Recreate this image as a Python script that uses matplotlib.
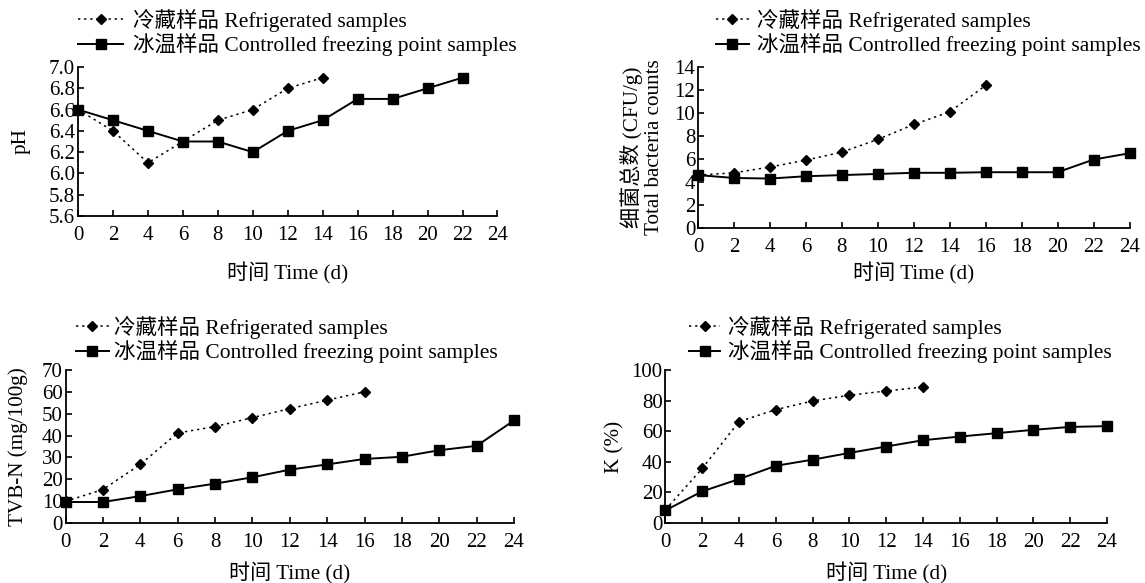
import matplotlib
matplotlib.use("Agg")
import matplotlib.pyplot as plt
from matplotlib.transforms import blended_transform_factory

plt.rcParams['font.family'] = ['Liberation Serif', 'Noto Sans CJK SC']
plt.rcParams['font.size'] = 15

# jours de stockage
days = [0, 2, 4, 6, 8, 10, 12, 14, 16, 18, 20, 22, 24]

# pH
ph_refrig = [6.6, 6.4, 6.1, 6.3, 6.5, 6.6, 6.8, 6.9]
ph_cfp = [6.6, 6.5, 6.4, 6.3, 6.3, 6.2, 6.4, 6.5, 6.7, 6.7, 6.8, 6.9]

# flore totale
tbc_refrig = [4.6, 4.8, 5.3, 5.9, 6.6, 7.7, 9.0, 10.1, 12.4]
tbc_cfp = [4.6, 4.35, 4.3, 4.5, 4.6, 4.7, 4.8, 4.8, 4.85, 4.85, 4.85, 5.95, 6.5]

# TVB-N
tvbn_refrig = [9.9, 15.3, 26.8, 41.2, 44.1, 48.2, 52.3, 56.2, 60.0]
tvbn_cfp = [9.6, 9.6, 12.3, 15.4, 18.0, 20.9, 24.4, 26.8, 29.3, 30.3, 33.3, 35.3, 46.9]

# valeur K
k_refrig = [8.7, 35.7, 66.3, 74.1, 79.8, 83.5, 86.3, 88.9]
k_cfp = [8.3, 20.7, 28.7, 37.4, 41.4, 45.8, 50.0, 54.1, 56.5, 58.7, 60.9, 62.8, 63.3]

lab_refrig = "冷藏样品 Refrigerated samples"
lab_cfp = "冰温样品 Controlled freezing point samples"
xlabel = "时间 Time (d)"

W, H = 1145, 583


def panel(fig, box, refrig, cfp, ylim, yticks, ylabel, ylab_x, xlab_y, leg, yfmt="{:g}"):
    # box = (gauche, haut, droite, bas) en pixels
    l, t, r, b = box
    ax = fig.add_axes([l / W, 1 - b / H, (r - l) / W, (b - t) / H])
    ax.plot(days[:len(refrig)], refrig, linestyle=(0, (1.5, 2.5)), color='black', lw=1.1,
            marker='D', ms=4.8, clip_on=False, label=lab_refrig, zorder=3)
    ax.plot(days[:len(cfp)], cfp, linestyle='-', color='black', lw=1.4,
            marker='s', ms=6.5, clip_on=False, label=lab_cfp, zorder=4)
    ax.set_xlim(0, 24)
    ax.set_ylim(*ylim)
    ax.set_xticks(range(0, 25, 2))
    ax.set_yticks(yticks)
    ax.set_yticklabels([yfmt.format(v) for v in yticks])
    ax.spines['top'].set_visible(False)
    ax.spines['right'].set_visible(False)
    ax.spines['left'].set_linewidth(1.3)
    ax.spines['bottom'].set_linewidth(1.3)
    ax.tick_params(axis='x', direction='in', length=4, width=1.2, pad=7, labelsize=15)
    ax.tick_params(axis='y', direction='in', length=4, width=1.2, pad=2, labelsize=15)
    ax.set_xlabel(xlabel, fontsize=15.2, va='center')
    ax.xaxis.set_label_coords(0.5, 1 - xlab_y / H,
                              transform=blended_transform_factory(ax.transAxes, fig.transFigure))
    ax.set_ylabel(ylabel, fontsize=15.2, va='center', linespacing=1.1)
    ax.yaxis.set_label_coords(ylab_x / W, 0.5,
                              transform=blended_transform_factory(fig.transFigure, ax.transAxes))
    lx, ly, hl, hp = leg
    ax.legend(loc='center left', bbox_to_anchor=(lx / W, 1 - ly / H), bbox_transform=fig.transFigure,
              frameon=False, numpoints=1, handlelength=hl, handletextpad=hp,
              labelspacing=0.08, borderaxespad=0, borderpad=0, fontsize=15.5)
    return ax


fig = plt.figure(figsize=(W / 100, H / 100), dpi=100)

panel(fig, (78, 67, 497.5, 216), ph_refrig, ph_cfp, (5.6, 7.0),
      [5.6, 5.8, 6.0, 6.2, 6.4, 6.6, 6.8, 7.0], "pH", 21, 273, (78, 32.5, 2.1, 0.45),
      yfmt="{:.1f}")
panel(fig, (698, 67, 1129.5, 228), tbc_refrig, tbc_cfp, (0, 14),
      list(range(0, 15, 2)), "细菌总数 (CFU/g)\nTotal bacteria counts", 642, 273,
      (716, 32.5, 1.53, 0.37))
panel(fig, (65.5, 370, 514, 523), tvbn_refrig, tvbn_cfp, (0, 70),
      list(range(0, 71, 10)), "TVB-N (mg/100g)", 18.6, 573, (76, 339.5, 1.53, 0.25))
panel(fig, (665.5, 370, 1107, 523), k_refrig, k_cfp, (0, 100),
      list(range(0, 101, 20)), "K (%)", 615, 573, (689, 339.5, 1.45, 0.35))

fig.savefig("out.png", dpi=100, facecolor='white')
